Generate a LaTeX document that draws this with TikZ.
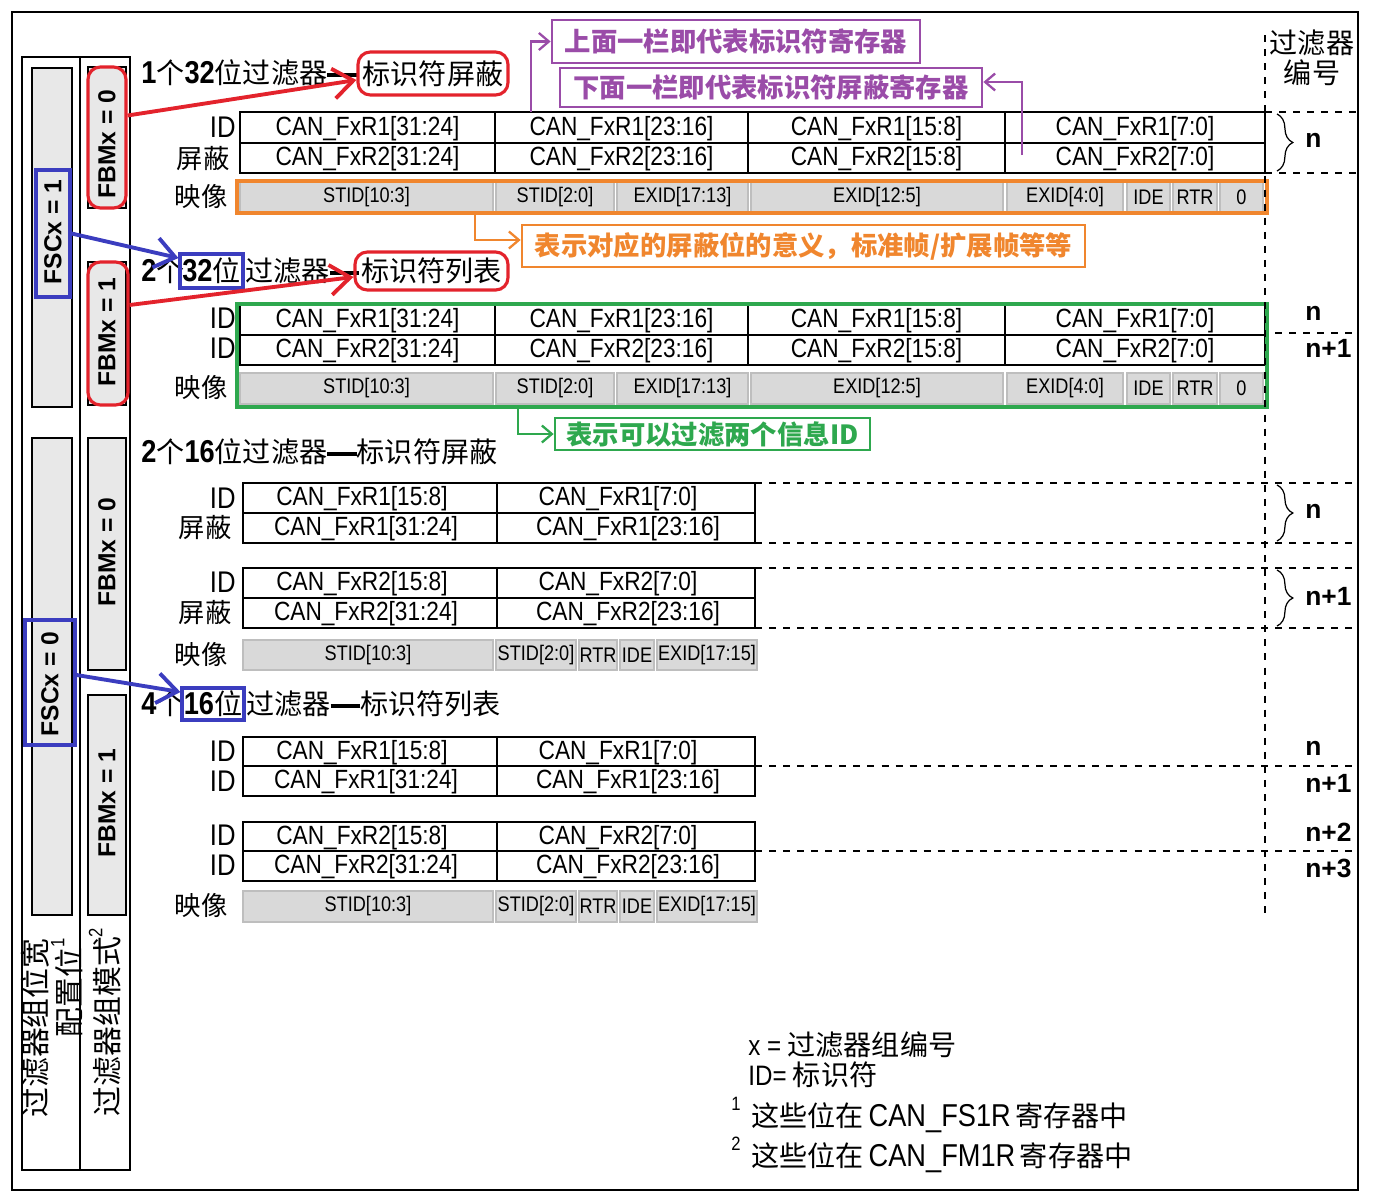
\documentclass[tikz,border=0pt]{standalone}
\usepackage{fontspec}
\setmainfont{Liberation Sans}
\newfontfamily\cjk{Noto Sans CJK SC}
\newfontfamily\narrow{Liberation Sans}[FakeStretch=0.86]
\usetikzlibrary{arrows.meta,positioning,decorations.pathreplacing}
\definecolor{markred}{HTML}{E3232C}
\definecolor{markblue}{HTML}{3B3DBF}
\definecolor{markpurple}{HTML}{9A4CA8}
\definecolor{markorange}{HTML}{F0862E}
\definecolor{markgreen}{HTML}{2EA84E}
\definecolor{cellgray}{HTML}{D9D9D9}
\definecolor{cellrim}{HTML}{BEBEBE}
\definecolor{bargray}{HTML}{E8E8E8}
\newcommand{\nb}[1]{{\narrow\bfseries\fontsize{18}{18}\selectfont #1}}
\newcommand{\nr}[1]{{\narrow #1}}
\newcommand{\supnum}[1]{\raisebox{.55em}{\narrow\fontsize{11}{11}\selectfont #1}}
\newcommand{\bardash}{\rule[.25em]{1.05em}{2.2pt}}

\begin{document}
\begin{tikzpicture}[x=0.02cm,y=-0.02cm,
 reg/.style={draw,line width=1.1pt},
 regtext/.style={inner sep=0pt,font=\narrow\fontsize{15}{15}\selectfont},
 img/.style={draw=cellrim,fill=cellgray,line width=1.4pt},
 imgtext/.style={inner sep=0pt,font=\narrow\fontsize{12}{12}\selectfont},
 rowlabel/.style={anchor=east,inner sep=0pt,font=\cjk\fontsize{15}{15}\selectfont},
 idlabel/.style={anchor=east,inner sep=0pt,font=\narrow\fontsize{17}{17}\selectfont},
 headline/.style={inner sep=0pt,font=\cjk\fontsize{16}{16}\selectfont},
 slot/.style={draw,fill=bargray,line width=.9pt},
 vert/.style={rotate=90,inner sep=0pt,font=\bfseries\fontsize{14}{14}\selectfont},
 redmark/.style={draw=markred,line width=1.8pt,rounded corners=7pt,inner sep=0pt},
 bluemark/.style={draw=markblue,line width=1.8pt,inner sep=0pt},
 note/.style={line width=1.6pt,inner sep=0pt,font=\cjk\bfseries\fontsize{15}{15}\selectfont},
 fat/.style={-{Straight Barb[length=4mm,width=6mm]},line width=2.2pt},
 callout/.style={-{Straight Barb[length=2mm,width=3.4mm]},line width=1.3pt},
 rowsep/.style={dash pattern=on 4pt off 4pt,line width=.6pt},
 num/.style={anchor=west,inner sep=0pt,font=\bfseries\fontsize{15}{15}\selectfont},
 numbrace/.style={decorate,decoration={brace,amplitude=9pt},line width=.7pt},
 keytext/.style={anchor=west,inner sep=0pt,font=\cjk\fontsize{16}{16}\selectfont}]
\path[use as bounding box] (0,0) rectangle (1376,1197);
\draw[line width=1.2pt] (12,12) rectangle (1358,1190);

% left columns: width bit and mode bit
\draw[line width=1pt] (22,57) rectangle (130,1170) (80,57) -- (80,1170);
\draw[slot] (32,68) rectangle (72,407) (32,438) rectangle (72,915);
\draw[slot] (88,67) rectangle (126,208) (88,262) rectangle (126,405)
  (88,438) rectangle (126,670) (88,695) rectangle (126,915);
\node[vert] (fsc1) at (53,232) {FSCx = 1};
\node[vert] (fsc0) at (50,684) {FSCx = 0};
\node[vert] (fbm0) at (107,144) {FBMx = 0};
\node[vert] (fbm1) at (107,332) {FBMx = 1};
\node[vert] (fbm2) at (107,552) {FBMx = 0};
\node[vert] (fbm3) at (107,803) {FBMx = 1};
\node[bluemark,minimum width=.68cm,minimum height=2.54cm] (fsc1box) at (53,233.5) {};
\node[bluemark,minimum width=1cm,minimum height=2.5cm] (fsc0box) at (50,682.5) {};
\node[redmark,minimum width=.76cm,minimum height=2.82cm] (fbm0box) at (107,137.5) {};
\node[redmark,minimum width=.8cm,minimum height=2.86cm] (fbm1box) at (108,333.5) {};
\node[rotate=90,align=right,inner sep=0pt,font=\cjk\fontsize{17}{15}\selectfont]
  (fscname) at (52,1028) {过滤器组位宽\\配置位\supnum{1}};
\node[rotate=90,inner sep=0pt,font=\cjk\fontsize{17}{17}\selectfont]
  (fbmname) at (105,1022) {过滤器组模式\supnum{2}};

% section titles
\node[headline,anchor=west] (head1) at (141,73) {\nb{1}个\nb{32}位过滤器\bardash};
\node[headline,redmark,minimum width=3cm,minimum height=.86cm] (tmask) at (433,73.5) {标识符屏蔽};
\node[headline,anchor=west] (head2) at (141,271) {\nb{2}个};
\node[headline,bluemark,minimum width=1.26cm,minimum height=.68cm] (b32) at (211.5,271) {\nb{32}位};
\node[headline,anchor=west] (head2b) at (245,271) {过滤器\bardash};
\node[headline,redmark,minimum width=3.06cm,minimum height=.76cm] (tlist) at (431.5,271) {标识符列表};
\node[headline,anchor=west] (head3) at (141,452) {\nb{2}个\nb{16}位过滤器\bardash 标识符屏蔽};
\node[headline,anchor=west] (head4) at (141,704) {\nb{4}个};
\node[headline,bluemark,minimum width=1.24cm,minimum height=.64cm] (b16) at (213,704) {\nb{16}位};
\node[headline,anchor=west] (head4b) at (246,704) {过滤器\bardash 标识符列表};

% 32 bit registers
\foreach \ya/\yb/\yc/\nm in {112/143/173/m,305/335/365/l}
  \foreach \xa/\xb/\bits [count=\i] in {240/495/31:24,495/748/23:16,748/1005/15:8,1005/1265/7:0}{
    \draw[reg] (\xa,\ya) rectangle (\xb,\yb) (\xa,\yb) rectangle (\xb,\yc);
    \node[regtext] (\nm a\i) at ({(\xa+\xb)/2},{(\ya+\yb)/2+1}) {CAN\_FxR1[\bits]};
    \node[regtext] (\nm b\i) at ({(\xa+\xb)/2},{(\yb+\yc)/2+1}) {CAN\_FxR2[\bits]};
  }
\foreach \ya/\yb/\nm in {182/212/mi,373/404/li}
  \foreach \xa/\xb/\t [count=\i] in {240/493/STID[10:3],496/614/STID[2:0],617/748/EXID[17:13],
      751/1003/EXID[12:5],1007/1123/EXID[4:0],1127/1170/IDE,1173/1217/RTR,1220/1263/0}{
    \draw[img] (\xa,\ya) rectangle (\xb,\yb);
    \node[imgtext] (\nm\i) at ({(\xa+\xb)/2},{(\ya+\yb)/2}) {\t};
  }
\draw[markorange,line width=1.8pt] (237,181) rectangle (1267,213);
\draw[markgreen,line width=1.8pt] (237,304) rectangle (1267,407);

% 16 bit registers
\foreach \ya/\yb/\yc/\r/\nm in {483/513/543/1/sa,568/598/628/2/sb,737/766/796/1/ta,822/851/881/2/tb}{
  \draw[reg] (243,\ya) rectangle (497,\yb) (243,\yb) rectangle (497,\yc)
    (497,\ya) rectangle (755,\yb) (497,\yb) rectangle (755,\yc);
  \node[regtext] (\nm 1) at (362,{(\ya+\yb)/2+1}) {CAN\_FxR\r[15:8]};
  \node[regtext] (\nm 2) at (618,{(\ya+\yb)/2+1}) {CAN\_FxR\r[7:0]};
  \node[regtext] (\nm 3) at (366,{(\yb+\yc)/2+1}) {CAN\_FxR\r[31:24]};
  \node[regtext] (\nm 4) at (628,{(\yb+\yc)/2+1}) {CAN\_FxR\r[23:16]};
}
\foreach \ya/\yb/\nm in {640/670/si,891/922/ti}
  \foreach \xa/\xb/\t [count=\i] in {243/493/STID[10:3],496/576/STID[2:0],579/617/RTR,
      620/654/IDE,657/757/EXID[17:15]}{
    \draw[img] (\xa,\ya) rectangle (\xb,\yb);
    \node[imgtext] (\nm\i) at ({(\xa+\xb)/2},{(\ya+\yb)/2}) {\t};
  }

% row labels
\node[idlabel] (id1) at (236,127) {ID};
\node[rowlabel] (mask1) at (230,159) {屏蔽};
\node[rowlabel] (img1) at (228,197) {映像};
\node[idlabel] (id2) at (236,318) {ID};
\node[idlabel] (id3) at (236,348) {ID};
\node[rowlabel] (img2) at (228,388) {映像};
\node[idlabel] (id4) at (236,498) {ID};
\node[rowlabel] (mask2) at (232,528) {屏蔽};
\node[idlabel] (id5) at (236,582) {ID};
\node[rowlabel] (mask3) at (232,613) {屏蔽};
\node[rowlabel] (img3) at (228,655) {映像};
\node[idlabel] (id6) at (236,751) {ID};
\node[idlabel] (id7) at (236,781) {ID};
\node[idlabel] (id8) at (236,835) {ID};
\node[idlabel] (id9) at (236,865) {ID};
\node[rowlabel] (img4) at (228,906) {映像};

% filter numbers
\node[headline,align=center,font=\cjk\fontsize{16}{17}\selectfont] (fnum) at (1312,58) {过滤器\\编号};
\draw[rowsep] (1265,35) -- (1265,915);
\draw[rowsep] (1265,112) -- (1358,112) (1265,173) -- (1358,173) (1275,333) -- (1358,333);
\draw[rowsep] (755,483) -- (1358,483) (755,543) -- (1358,543)
  (755,568) -- (1358,568) (755,628) -- (1358,628)
  (755,766) -- (1358,766) (755,851) -- (1358,851);
\draw[numbrace] (1277,114) -- (1277,171);
\draw[numbrace] (1277,485) -- (1277,541);
\draw[numbrace] (1277,570) -- (1277,626);
\node[num] (n1) at (1305,140) {n};
\node[num] (n2) at (1305,313) {n};
\node[num] (n3) at (1305,348) {n+1};
\node[num] (n4) at (1305,511) {n};
\node[num] (n5) at (1305,596) {n+1};
\node[num] (n6) at (1305,748) {n};
\node[num] (n7) at (1305,783) {n+1};
\node[num] (n8) at (1305,832) {n+2};
\node[num] (n9) at (1305,868) {n+3};

% notes
\node[note,draw=markpurple,text=markpurple,minimum width=7.36cm,minimum height=.86cm] (pnote1) at (736,41.5) {上面一栏即代表标识符寄存器};
\node[note,draw=markpurple,text=markpurple,minimum width=8.44cm,minimum height=.78cm] (pnote2) at (771,87.5) {下面一栏即代表标识符屏蔽寄存器};
\node[note,draw=markorange,text=markorange,minimum width=11.26cm,minimum height=.84cm] (onote) at (803.5,246) {表示对应的屏蔽位的意义，标准帧/扩展帧等等};
\node[note,draw=markgreen,text=markgreen,minimum width=6.3cm,minimum height=.64cm] (gnote) at (712.5,434) {表示可以过滤两个信息ID};
\coordinate (pfrom1) at (531,112);
\coordinate (pfrom2) at (1022,155);
\coordinate (ofrom) at (475,213);
\coordinate (gfrom) at (518,407);
\draw[callout,markpurple] (pfrom1) |- (pnote1);
\draw[callout,markpurple] (pfrom2) |- ([yshift=.11cm]pnote2.east);
\draw[callout,markorange] (ofrom) |- ([yshift=.12cm]onote.west);
\draw[callout,markgreen] (gfrom) |- (gnote);
\draw[fat,markred] ([yshift=.44cm]fbm0box.east) -- ([yshift=-.13cm]tmask.west);
\draw[fat,markred] ([yshift=.57cm]fbm1box.east) -- ([yshift=-.12cm]tlist.west);
\draw[fat,markblue] (fsc1box.east) -- ([yshift=.26cm]b32.west);
\draw[fat,markblue] ([yshift=.15cm]fsc0box.east) -- ([yshift=.24cm]b16.west);

% key
\node[keytext] (keyx) at (748,1045) {\nr{x =} 过滤器组编号};
\node[keytext] (keyid) at (748,1075) {\nr{ID=} 标识符};
\node[keytext] (foot1) at (731,1115) {\supnum{1}\, 这些位在\,{\narrow\fontsize{18}{18}\selectfont CAN\_FS1R}\,寄存器中};
\node[keytext] (foot2) at (731,1155) {\supnum{2}\, 这些位在\,{\narrow\fontsize{18}{18}\selectfont CAN\_FM1R}\,寄存器中};
\end{tikzpicture}
\end{document}
